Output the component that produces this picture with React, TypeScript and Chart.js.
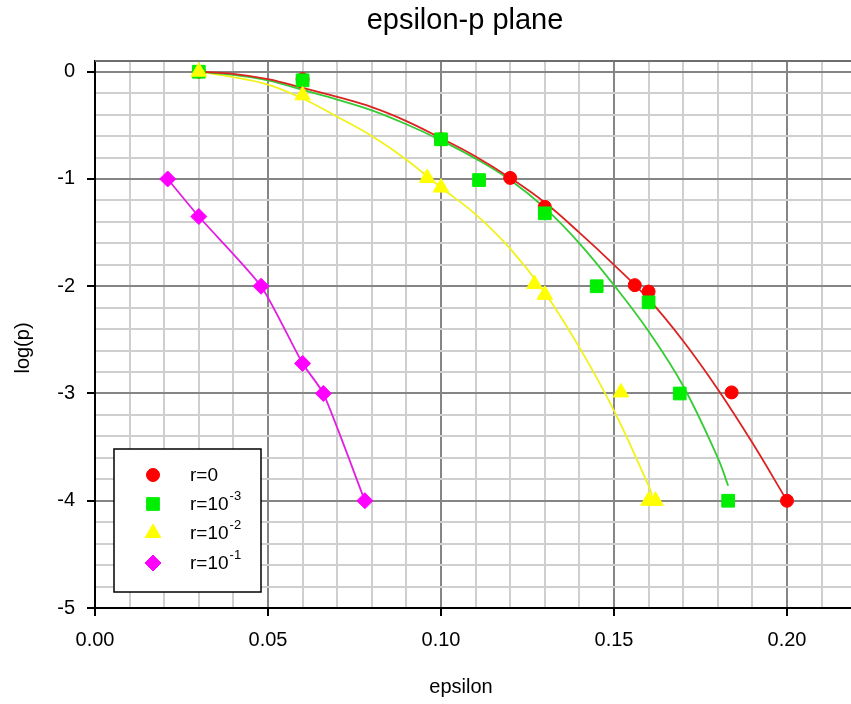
import { useEffect, useRef } from 'react';
import { Chart, registerables } from 'chart.js';
import { drawPoint } from 'chart.js/helpers';

Chart.register(...registerables);

const FONT = '"Liberation Sans", Arial, sans-serif';

const chartTitle = 'epsilon-p plane';
const xTitle = 'epsilon';
const yTitle = 'log(p)';

// Measured points, one pair of arrays per r value
const epsR0 = [0.03, 0.06, 0.1, 0.12, 0.13, 0.156, 0.16, 0.184, 0.2];
const logpR0 = [0, -0.07, -0.63, -0.99, -1.26, -1.99, -2.05, -2.99, -4.0];

const epsR3 = [0.03, 0.06, 0.1, 0.111, 0.13, 0.145, 0.16, 0.169, 0.183];
const logpR3 = [0, -0.08, -0.63, -1.01, -1.32, -2.0, -2.15, -3.0, -4.0];

const epsR2 = [0.03, 0.06, 0.096, 0.1, 0.127, 0.13, 0.152, 0.16, 0.162];
const logpR2 = [0, -0.22, -0.99, -1.08, -1.98, -2.08, -2.99, -4.0, -4.0];

const epsR1 = [0.021, 0.03, 0.048, 0.06, 0.066, 0.078];
const logpR1 = [-1.0, -1.35, -2.0, -2.72, -3.0, -4.0];

// Fitted curves
const fitEpsR0 = [0.03, 0.04, 0.05, 0.06, 0.07, 0.08, 0.09, 0.1, 0.11, 0.12, 0.13, 0.14, 0.15, 0.16, 0.17, 0.18, 0.19, 0.2];
const fitLogpR0 = [0.0, -0.02, -0.07, -0.15, -0.235, -0.33, -0.46, -0.62, -0.79, -0.99, -1.22, -1.5, -1.8, -2.12, -2.51, -2.96, -3.46, -4.0];

const fitEpsR3 = [0.03, 0.04, 0.05, 0.06, 0.07, 0.08, 0.09, 0.1, 0.11, 0.12, 0.13, 0.14, 0.15, 0.16, 0.17, 0.18, 0.183];
const fitLogpR3 = [0.0, -0.03, -0.08, -0.17, -0.26, -0.36, -0.49, -0.64, -0.81, -1.01, -1.27, -1.6, -1.99, -2.42, -2.93, -3.6, -3.86];

const fitEpsR2 = [0.03, 0.04, 0.05, 0.06, 0.07, 0.08, 0.09, 0.1, 0.11, 0.12, 0.13, 0.14, 0.15, 0.16, 0.161];
const fitLogpR2 = [0.0, -0.05, -0.12, -0.25, -0.42, -0.6, -0.82, -1.08, -1.33, -1.65, -2.06, -2.57, -3.16, -3.86, -3.95];

// Legend entries: base text and exponent
const legendBase = ['r=0', 'r=10', 'r=10', 'r=10'];
const legendExp = ['', '-3', '-2', '-1'];

// Axis ranges and steps
const xMin = 0;
const xMax = 0.2185;
const xMinorStep = 0.01;
const xMajorStep = 0.05;
const yMin = -5;
const yMax = 0.1;
const yMinorStep = 0.2;
const yMajorStep = 1;

const pts = (xs: number[], ys: number[]) => xs.map((x, i) => ({ x, y: ys[i] }));

const isMajor = (v: number, step: number) => Math.abs(v / step - Math.round(v / step)) < 1e-6;

const markerStyles = [
  { color: '#ff0000', style: 'circle', radius: 6.5 },
  { color: '#00ee00', style: 'rect', radius: 9 },
  { color: '#ffff00', style: 'triangle', radius: 9 },
  { color: '#ff00ff', style: 'rectRot', radius: 8 },
];

const framePlugin = {
  id: 'frame',
  beforeDraw(chart: any) {
    const { ctx, width, height } = chart;
    ctx.save();
    ctx.fillStyle = '#ffffff';
    ctx.fillRect(0, 0, width, height);
    ctx.restore();
  },
  afterDatasetsDraw(chart: any) {
    const { ctx, chartArea } = chart;
    ctx.save();
    // top frame line
    ctx.strokeStyle = '#6e6e6e';
    ctx.lineWidth = 2;
    ctx.beginPath();
    ctx.moveTo(chartArea.left, chartArea.top);
    ctx.lineTo(chartArea.right, chartArea.top);
    ctx.stroke();

    // titles
    ctx.fillStyle = '#000';
    ctx.textAlign = 'center';
    ctx.textBaseline = 'middle';
    ctx.font = `29px ${FONT}`;
    ctx.fillText(chartTitle, 465, 21);
    ctx.font = `20px ${FONT}`;
    ctx.fillText(xTitle, 461, 687);
    ctx.save();
    ctx.translate(23, 348);
    ctx.rotate(-Math.PI / 2);
    ctx.fillText(yTitle, 0, 0);
    ctx.restore();

    // legend box
    const bx = 114, by = 449, bw = 147, bh = 143;
    ctx.fillStyle = '#fff';
    ctx.fillRect(bx, by, bw, bh);
    ctx.strokeStyle = '#000';
    ctx.lineWidth = 1.5;
    ctx.strokeRect(bx, by, bw, bh);
    const rowY = [475, 504, 533, 563];
    legendBase.forEach((label, i) => {
      const m = markerStyles[i];
      ctx.fillStyle = m.color;
      ctx.strokeStyle = m.color;
      ctx.lineWidth = 1;
      drawPoint(ctx, { pointStyle: m.style, radius: m.radius, rotation: 0, borderWidth: 1 } as any, 153, rowY[i]);
      ctx.fillStyle = '#000';
      ctx.textAlign = 'left';
      ctx.textBaseline = 'middle';
      ctx.font = `19px ${FONT}`;
      ctx.fillText(label, 190, rowY[i] + 1);
      if (legendExp[i]) {
        const w = ctx.measureText(label).width;
        ctx.font = `13px ${FONT}`;
        ctx.fillText(legendExp[i], 190 + w + 1, rowY[i] - 8);
      }
    });
    ctx.restore();
  },
};

export default function App() {
  const ref = useRef<HTMLCanvasElement>(null);
  useEffect(() => {
    const markerDataset = (i: number, xs: number[], ys: number[]) => ({
      data: pts(xs, ys),
      showLine: false,
      pointStyle: markerStyles[i].style,
      pointRadius: markerStyles[i].radius,
      pointBackgroundColor: markerStyles[i].color,
      pointBorderColor: markerStyles[i].color,
      pointBorderWidth: 1,
      order: 4 - i,
    });
    const curveDataset = (color: string, xs: number[], ys: number[], order: number) => ({
      data: pts(xs, ys),
      showLine: true,
      borderColor: color,
      borderWidth: 1.8,
      pointRadius: 0,
      tension: 0.4,
      order,
    });
    const magentaLine = {
      data: pts(epsR1, logpR1),
      showLine: true,
      borderColor: '#e21ee2',
      borderWidth: 1.8,
      pointRadius: 0,
      tension: 0.2,
      order: 6,
    };
    const chart = new Chart(ref.current!, {
      type: 'scatter',
      data: {
        datasets: [
          markerDataset(0, epsR0, logpR0),
          markerDataset(1, epsR3, logpR3),
          markerDataset(2, epsR2, logpR2),
          markerDataset(3, epsR1, logpR1),
          curveDataset('#dd2222', fitEpsR0, fitLogpR0, 7),
          curveDataset('#33cc33', fitEpsR3, fitLogpR3, 8),
          curveDataset('#f2f21a', fitEpsR2, fitLogpR2, 9),
          magentaLine,
        ] as any,
      },
      options: {
        animation: false,
        responsive: true,
        maintainAspectRatio: false,
        layout: { autoPadding: false, padding: { top: 61, left: 0, right: 0, bottom: 0 } },
        plugins: { legend: { display: false }, tooltip: { enabled: false }, title: { display: false } },
        scales: {
          x: {
            type: 'linear',
            min: xMin,
            max: xMax,
            afterFit: (s: any) => { s.height = 96; },
            border: { display: true, color: '#000', width: 2 },
            grid: {
              color: (c: any) => (isMajor(c.tick.value, xMajorStep) ? '#858585' : '#cfcfcf'),
              lineWidth: 2,
              tickLength: 8,
              tickWidth: 2,
              tickColor: (c: any) => (isMajor(c.tick.value, xMajorStep) ? '#000' : 'rgba(0,0,0,0)'),
            },
            ticks: {
              stepSize: xMinorStep,
              includeBounds: false,
              autoSkip: false,
              maxRotation: 0,
              padding: 12,
              color: '#000',
              font: { family: FONT, size: 20 },
              callback: (v: any) => (isMajor(Number(v), xMajorStep) ? Number(v).toFixed(2) : ''),
            },
          },
          y: {
            type: 'linear',
            min: yMin,
            max: yMax,
            afterFit: (s: any) => { s.width = 95; },
            border: { display: true, color: '#000', width: 2 },
            grid: {
              color: (c: any) => (isMajor(c.tick.value, yMajorStep) ? '#858585' : '#cfcfcf'),
              lineWidth: 2,
              tickLength: 8,
              tickWidth: 2,
              tickColor: (c: any) => (isMajor(c.tick.value, yMajorStep) ? '#000' : 'rgba(0,0,0,0)'),
            },
            ticks: {
              stepSize: yMinorStep,
              includeBounds: false,
              autoSkip: false,
              padding: 12,
              color: '#000',
              font: { family: FONT, size: 20 },
              callback: (v: any) => (isMajor(Number(v), yMajorStep) ? String(Math.round(Number(v))) : ''),
            },
          },
        },
      } as any,
      plugins: [framePlugin],
    });
    return () => chart.destroy();
  }, []);
  return (
    <div style={{ position: 'fixed', left: 0, top: 0, width: 851, height: 704, background: '#fff' }}>
      <canvas ref={ref} />
    </div>
  );
}
